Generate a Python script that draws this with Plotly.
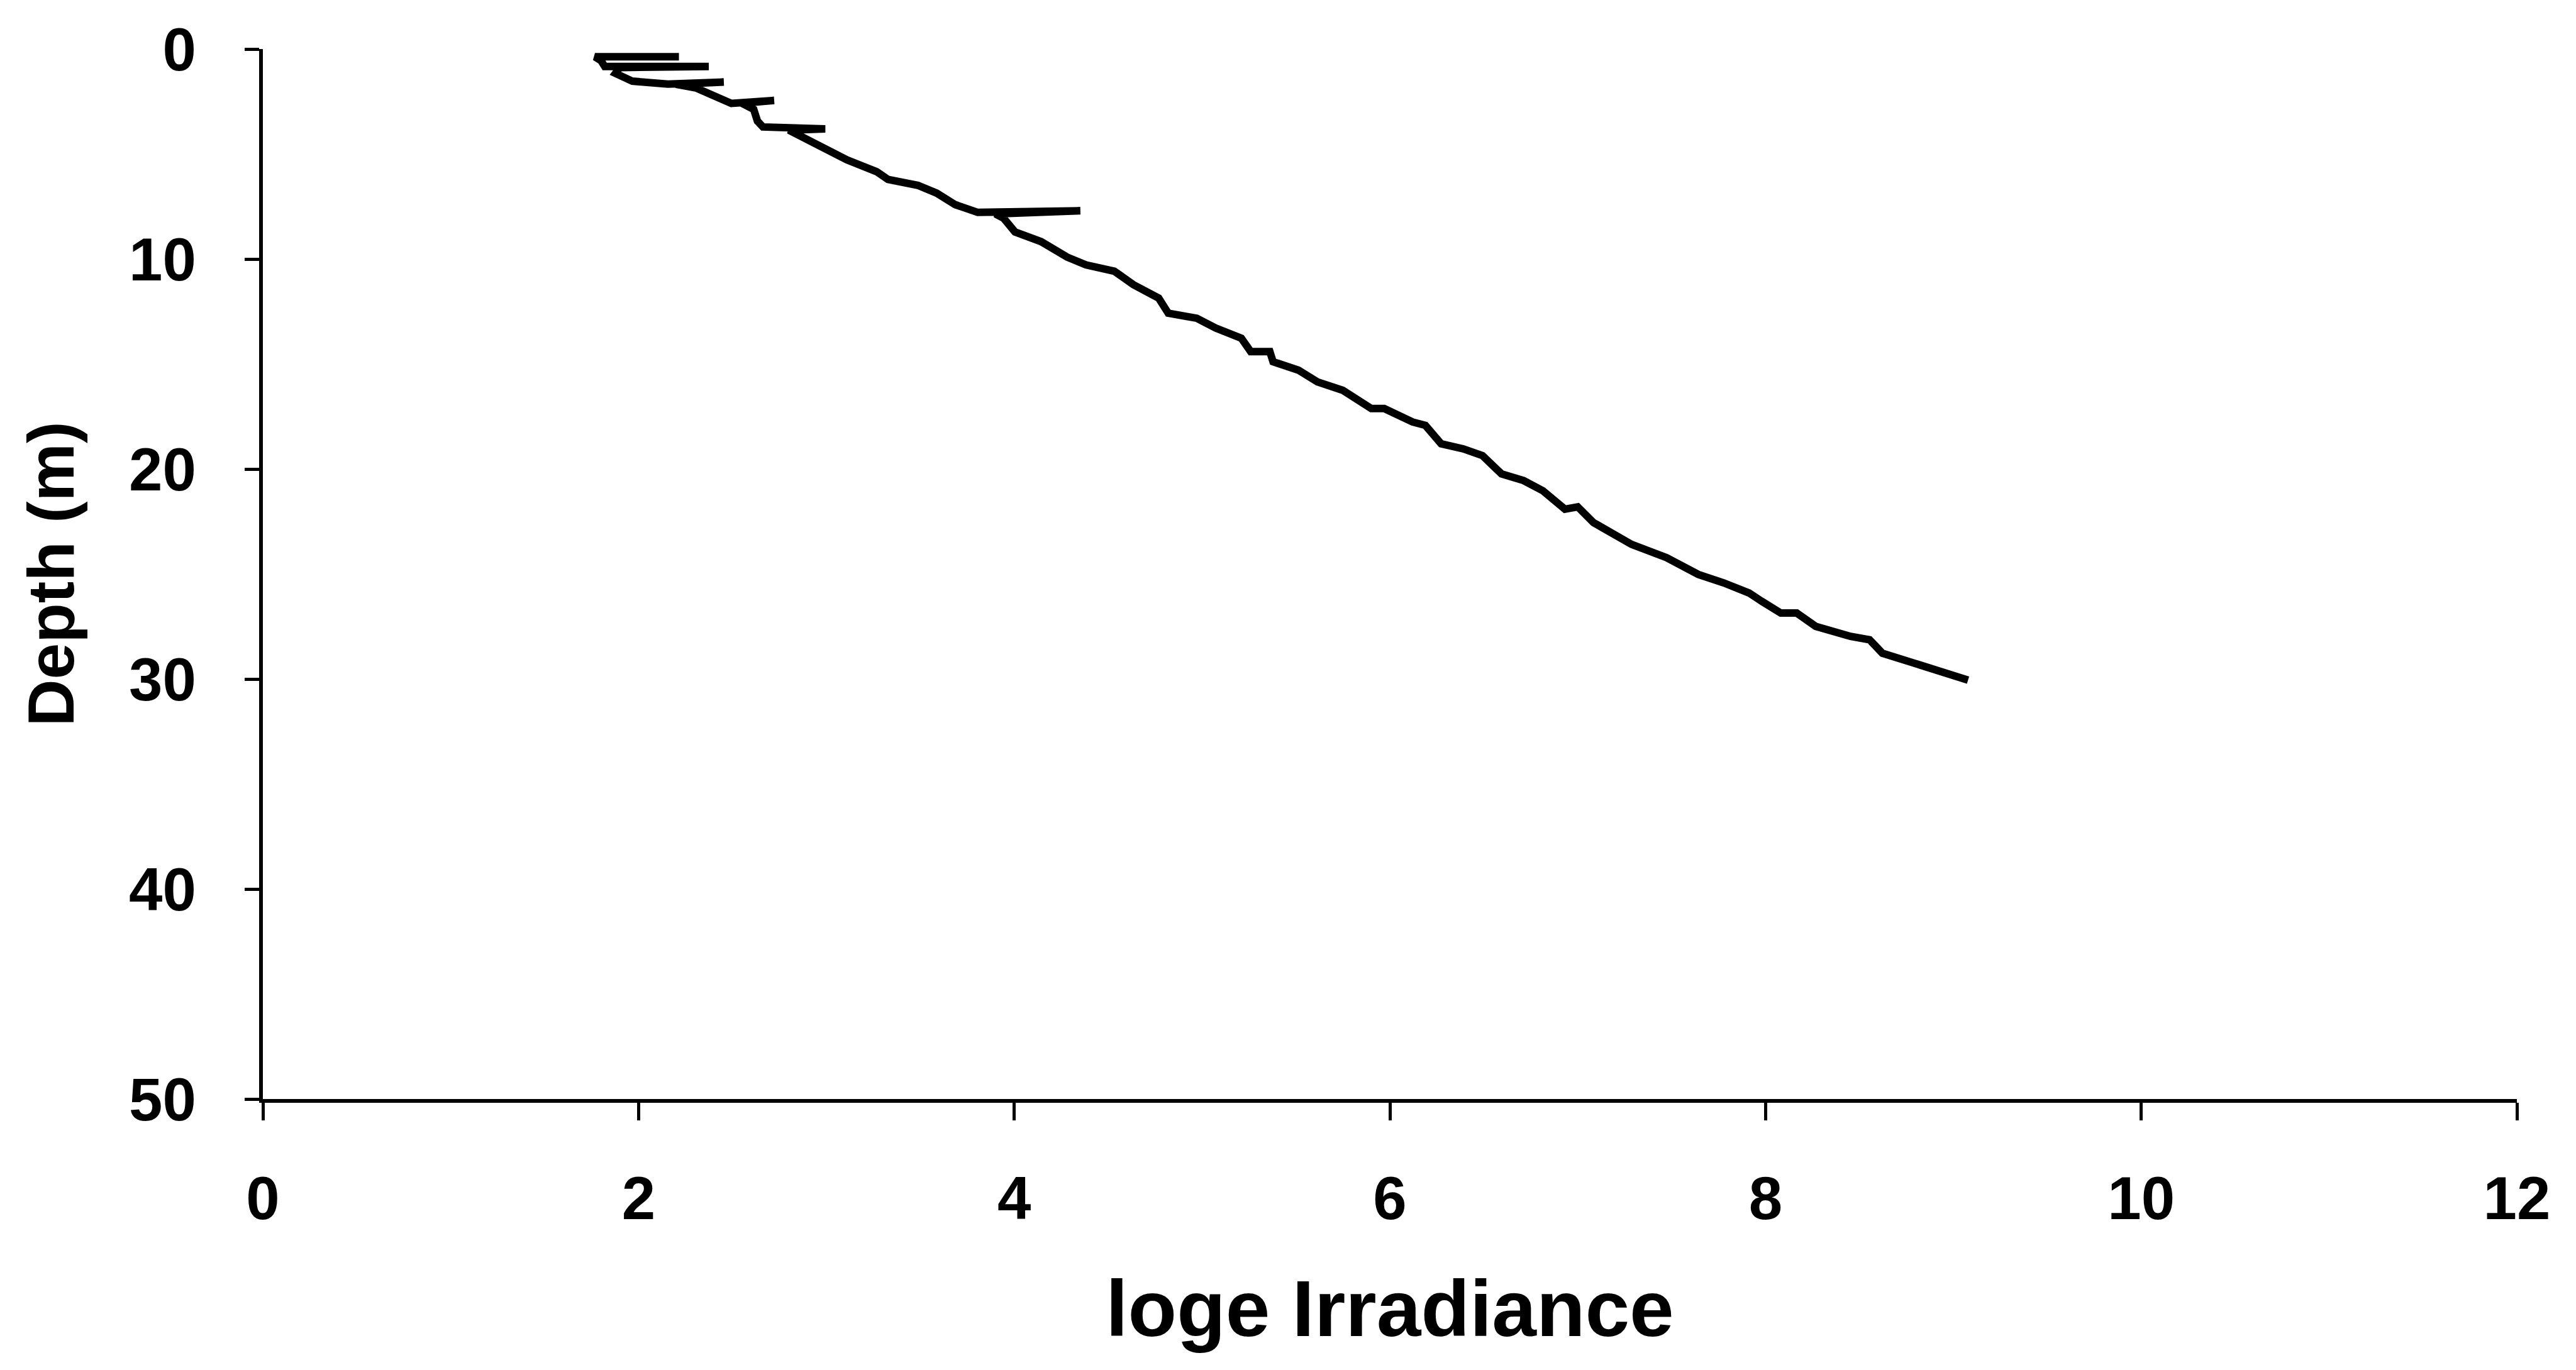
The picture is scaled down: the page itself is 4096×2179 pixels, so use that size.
import plotly.graph_objects as go

# loge irradiance (x) vs depth (m)
irradiance = [2.215, 1.768, 1.80, 1.82, 2.374, 1.90, 1.877, 1.967, 2.156, 2.454,
              2.20, 2.305, 2.394, 2.494, 2.722, 2.55, 2.613, 2.633, 2.662, 2.994,
              2.80, 2.851, 2.970, 3.110, 3.268, 3.328, 3.487, 3.587, 3.686, 3.806,
              4.352, 3.90, 3.944, 4.004, 4.143, 4.282, 4.382, 4.533, 4.634, 4.769,
              4.820, 4.972, 5.073, 5.209, 5.259, 5.361, 5.378, 5.513, 5.614, 5.749,
              5.901, 5.970, 6.121, 6.189, 6.273, 6.391, 6.493, 6.594, 6.712, 6.814,
              6.932, 7.000, 7.084, 7.169, 7.287, 7.473, 7.642, 7.777, 7.912, 7.980,
              8.081, 8.166, 8.267, 8.453, 8.554, 8.622, 8.791, 8.960, 9.078]
depth = [0.37, 0.37, 0.55, 0.83, 0.83, 0.88, 1.16, 1.53, 1.67, 1.57,
         1.68, 1.85, 2.22, 2.59, 2.45, 2.58, 2.87, 3.43, 3.71, 3.80,
         3.86, 4.08, 4.63, 5.28, 5.84, 6.21, 6.49, 6.86, 7.41, 7.78,
         7.70, 7.85, 8.06, 8.71, 9.17, 9.91, 10.28, 10.58, 11.22, 11.86,
         12.58, 12.82, 13.29, 13.77, 14.41, 14.41, 14.89, 15.29, 15.85, 16.25,
         17.12, 17.12, 17.76, 17.92, 18.80, 19.04, 19.36, 20.23, 20.55, 21.03,
         21.91, 21.80, 22.55, 23.03, 23.59, 24.22, 25.02, 25.42, 25.90, 26.30,
         26.86, 26.86, 27.49, 27.97, 28.13, 28.77, 29.25, 29.73, 30.05]

x_ticks = [0, 2, 4, 6, 8, 10, 12]
y_ticks = [0, 10, 20, 30, 40, 50]

FONT = "Liberation Sans"

fig = go.Figure()
fig.add_trace(go.Scatter(
    x=irradiance, y=depth, mode="lines",
    line=dict(color="black", width=12),
    showlegend=False,
))

fig.update_layout(
    width=4096, height=2179,
    margin=dict(l=418, r=94, t=78, b=431),
    paper_bgcolor="white", plot_bgcolor="white",
    font=dict(family=FONT, color="black"),
    xaxis=dict(
        range=[0, 12], tickvals=x_ticks, ticktext=[str(v) for v in x_ticks],
        showgrid=False, zeroline=False,
        showline=True, linecolor="black", linewidth=6,
        ticks="outside", ticklen=28, tickwidth=5, tickcolor="black",
        tickfont=dict(family=FONT, size=96, weight="bold"),
        ticklabelstandoff=42,
        title=dict(text="loge Irradiance",
                   font=dict(family=FONT, size=127, weight="bold"),
                   standoff=80),
    ),
    yaxis=dict(
        range=[50, 0], tickvals=y_ticks, ticktext=[str(v) for v in y_ticks],
        showgrid=False, zeroline=False,
        showline=True, linecolor="black", linewidth=6,
        ticks="outside", ticklen=23, tickwidth=5, tickcolor="black",
        tickfont=dict(family=FONT, size=96, weight="bold"),
        ticklabelstandoff=58,
        title=dict(text="Depth (m)",
                   font=dict(family=FONT, size=104, weight="bold"),
                   standoff=55),
    ),
)

fig.write_html("out.html")
